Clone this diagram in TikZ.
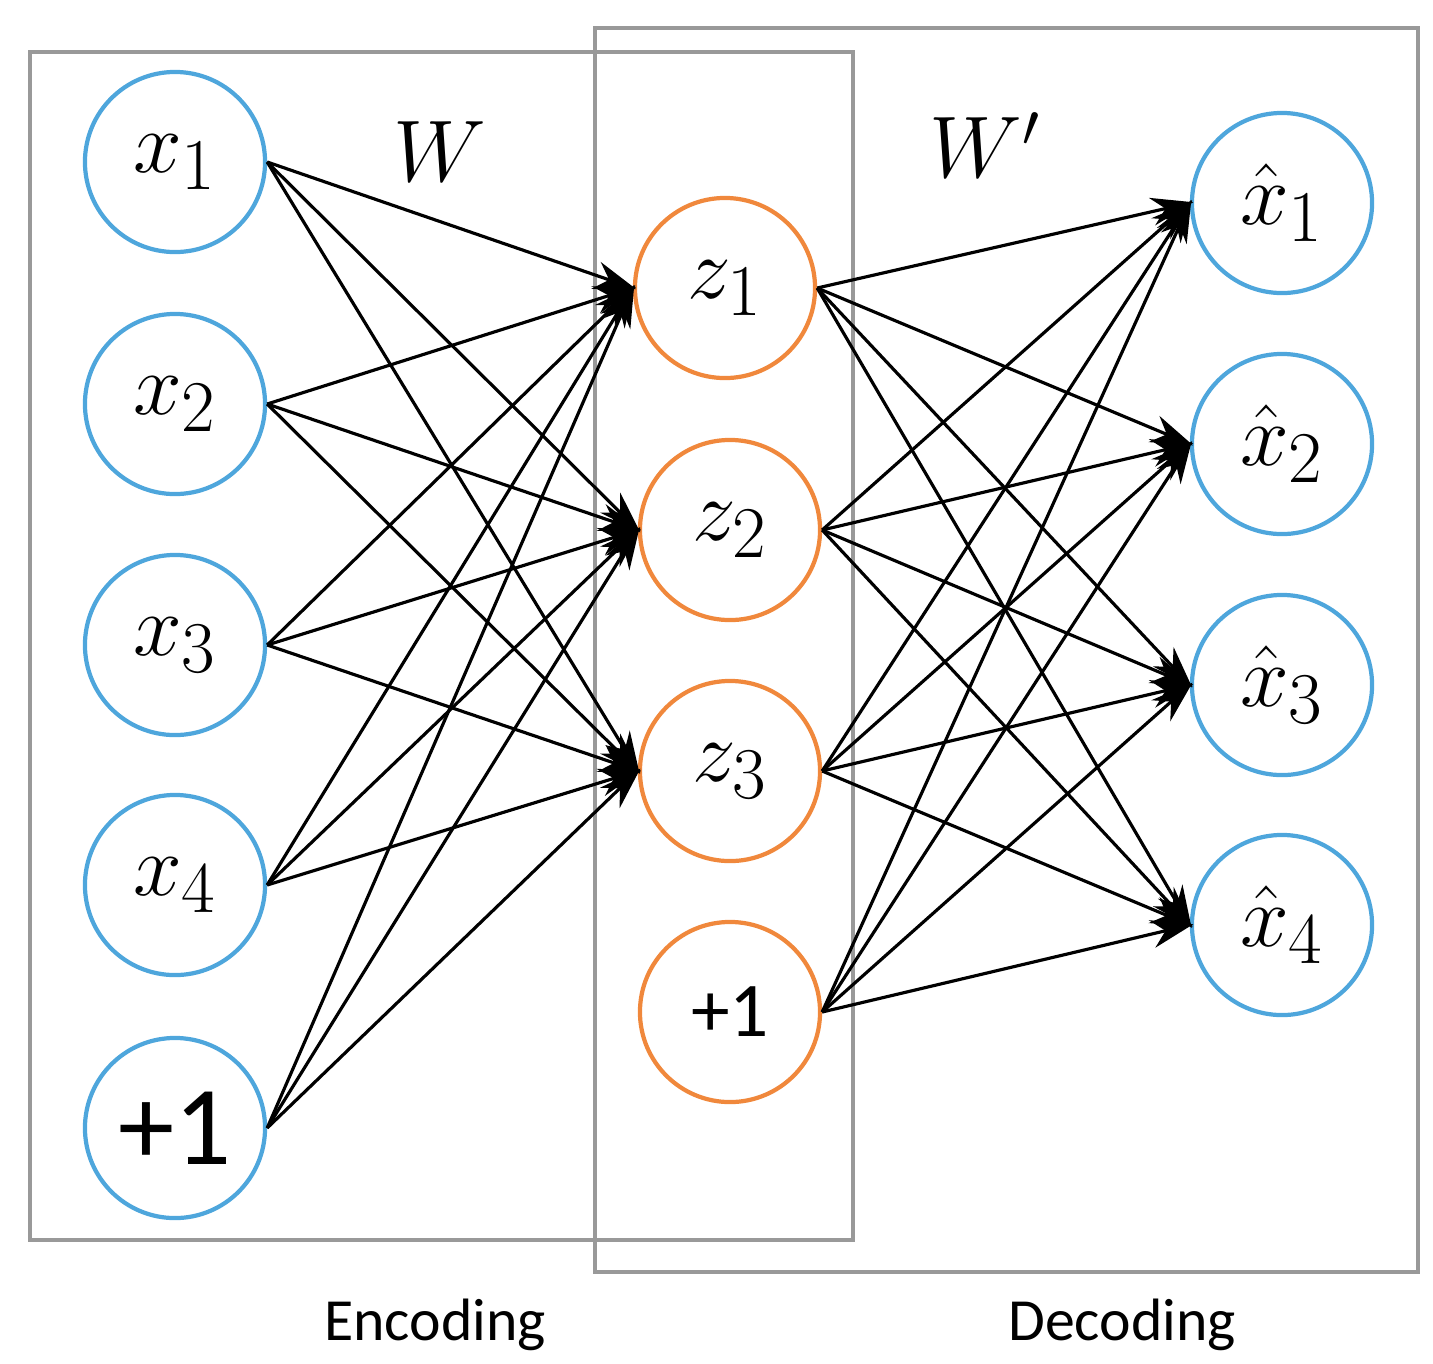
\documentclass[tikz,border=0pt]{standalone}
\usepackage{fontspec}
\newfontfamily\carfont{Carlito}
\usetikzlibrary{arrows.meta}
\definecolor{cblue}{HTML}{4EA6DC}
\definecolor{corange}{HTML}{F0883C}
\begin{document}
\begin{tikzpicture}[x=0.01cm,y=-0.01cm,
  neu/.style={circle,draw,line width=1.2pt,minimum size=1.8cm,inner sep=0pt,font=\fontsize{30}{36}\selectfont},
  innode/.style={neu,draw=cblue},
  hid/.style={neu,draw=corange},
  box/.style={draw=gray!80,line width=1.3pt},
  con/.style={-{Stealth[length=12pt,width=8pt]},line width=0.9pt,shorten >=-1pt}]
\useasboundingbox (0,0) rectangle (1433,1363);
\draw[box] (30,52) rectangle (853,1240);
\draw[box] (595,28) rectangle (1418,1272);
\node[innode] (x1) at (175,162) {$x_1$};
\node[innode] (x2) at (175,404) {$x_2$};
\node[innode] (x3) at (175,645) {$x_3$};
\node[innode] (x4) at (175,885) {$x_4$};
\node[innode,font=\carfont\fontsize{32}{38}\selectfont] (x5) at (175,1128) {+1};
\node[hid] (z1) at (725,288) {$z_1$};
\node[hid] (z2) at (730,530) {$z_2$};
\node[hid] (z3) at (730,771) {$z_3$};
\node[hid,font=\carfont\fontsize{22}{26}\selectfont] (z4) at (730,1012) {+1};
\node[innode] (y1) at (1282,203) {$\hat{x}_1$};
\node[innode] (y2) at (1282,444) {$\hat{x}_2$};
\node[innode] (y3) at (1282,685) {$\hat{x}_3$};
\node[innode] (y4) at (1282,925) {$\hat{x}_4$};
\foreach \i in {1,...,5}\foreach \j in {1,2,3}
  \draw[con] (x\i.east) -- (z\j.west);
\foreach \i in {1,...,4}\foreach \j in {1,...,4}
  \draw[con] (z\i.east) -- (y\j.west);
\node[font=\fontsize{26}{30}\selectfont] (w) at (440,152) {$W$};
\node[font=\fontsize{26}{30}\selectfont] (w2) at (985,145) {$W'$};
\node[font=\carfont\fontsize{17}{20}\selectfont] (enc) at (435,1325) {Encoding};
\node[font=\carfont\fontsize{17}{20}\selectfont] (dec) at (1122,1325) {Decoding};
\end{tikzpicture}
\end{document}
